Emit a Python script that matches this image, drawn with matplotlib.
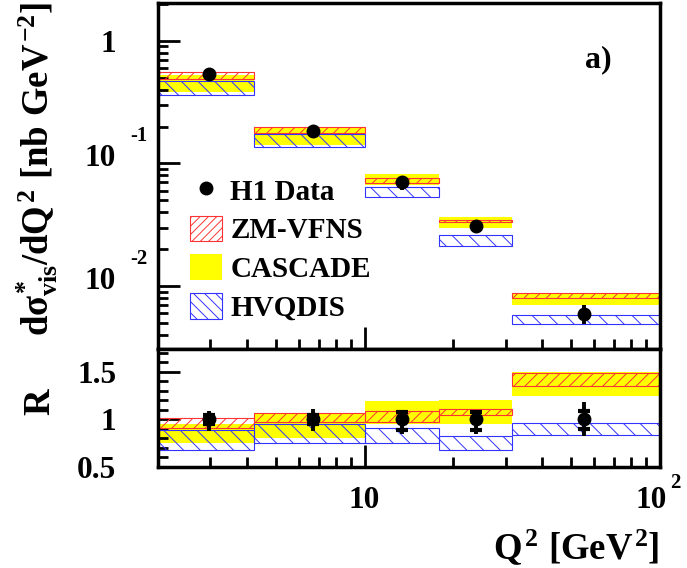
import numpy as np
import matplotlib
matplotlib.use("Agg")
import matplotlib.pyplot as plt
from matplotlib.patches import Patch
from matplotlib.lines import Line2D
from matplotlib.ticker import NullFormatter, MultipleLocator

plt.rcParams['font.family'] = ['Liberation Serif', 'DejaVu Serif']
plt.rcParams['font.weight'] = 'bold'
plt.rcParams['mathtext.fontset'] = 'custom'
plt.rcParams['mathtext.rm'] = 'Liberation Serif:bold'
plt.rcParams['mathtext.it'] = 'Liberation Serif:bold'
plt.rcParams['mathtext.bf'] = 'Liberation Serif:bold'
plt.rcParams['hatch.linewidth'] = 0.7

# Q2 bins [GeV^2]
q2_lo = [2.0, 4.22, 10.0, 17.8, 31.6]
q2_hi = [4.22, 10.0, 17.8, 31.6, 100.0]
q2_pts = [2.98, 6.68, 13.4, 23.8, 55.2]

# H1 data, d sigma / dQ2 [nb GeV^-2]
xs_data = [0.535, 0.184, 0.0709, 0.0309, 0.00589]
xs_err_lo = [0.06, 0.022, 0.010, 0.004, 0.0010]
xs_err_hi = [0.06, 0.021, 0.008, 0.0035, 0.0011]

# theory bands (low, high)
zm_lo = [0.488, 0.178, 0.0689, 0.0333, 0.00796]
zm_hi = [0.553, 0.199, 0.0764, 0.0346, 0.00874]
cas_lo = [0.384, 0.141, 0.0667, 0.0297, 0.00707]
cas_hi = [0.525, 0.199, 0.0820, 0.0368, 0.00874]
hvq_lo = [0.361, 0.137, 0.0530, 0.0212, 0.00488]
hvq_hi = [0.472, 0.174, 0.0639, 0.0261, 0.00581]

# ratio panel
r_data = [1.0, 1.0, 1.0, 1.0, 1.0]
r_tot_lo = [0.12, 0.12, 0.15, 0.15, 0.18]
r_tot_hi = [0.09, 0.11, 0.10, 0.10, 0.18]
r_stat_lo = [0.05, 0.05, 0.11, 0.11, 0.10]
r_stat_hi = [0.05, 0.05, 0.08, 0.08, 0.09]
r_zm_lo = [0.912, 0.971, 0.975, 1.046, 1.348]
r_zm_hi = [1.018, 1.071, 1.088, 1.106, 1.486]
r_cas_lo = [0.75, 0.80, 0.954, 0.954, 1.241]
r_cas_hi = [0.95, 1.071, 1.195, 1.200, 1.503]
r_hvq_lo = [0.673, 0.752, 0.752, 0.681, 0.837]
r_hvq_hi = [0.886, 0.954, 0.904, 0.822, 0.965]

RED = '#ff3333'
BLUE = '#3333ff'
YEL = '#ffff00'
FS = 21      # legend
TFS = 22.5   # tick labels
HFS = 26.5   # axis titles

fig = plt.figure(figsize=(6.87, 5.68), dpi=100)
ax1 = fig.add_axes([0.230, 0.3856, 0.7307, 0.609])
ax2 = fig.add_axes([0.230, 0.178, 0.7307, 0.2076])

w = np.subtract(q2_hi, q2_lo)


def bands(ax, zlo, zhi, clo, chi, hlo, hhi):
    ax.bar(q2_lo, np.subtract(chi, clo), width=w, bottom=clo, align='edge',
           color=YEL, linewidth=0, zorder=1)
    ax.bar(q2_lo, np.subtract(zhi, zlo), width=w, bottom=zlo, align='edge',
           facecolor='none', edgecolor=RED, hatch='///', linewidth=0.8, zorder=2)
    ax.bar(q2_lo, np.subtract(hhi, hlo), width=w, bottom=hlo, align='edge',
           facecolor='none', edgecolor=BLUE, hatch='\\\\', linewidth=0.8, zorder=2)


# upper panel
bands(ax1, zm_lo, zm_hi, cas_lo, cas_hi, hvq_lo, hvq_hi)
ax1.errorbar(q2_pts, xs_data, yerr=[xs_err_lo, xs_err_hi], fmt='o', color='k',
             ms=9, elinewidth=2.8, capsize=0, zorder=5)
ax1.set_xscale('log')
ax1.set_yscale('log')
ax1.set_xlim(2, 100)
ax1.set_ylim(0.00307, 2.03)

# lower panel
bands(ax2, r_zm_lo, r_zm_hi, r_cas_lo, r_cas_hi, r_hvq_lo, r_hvq_hi)
ax2.errorbar(q2_pts, r_data, yerr=[r_tot_lo, r_tot_hi], fmt='o', color='k',
             ms=9, elinewidth=2.8, capsize=0, zorder=5)
ax2.plot(q2_pts, np.subtract(r_data, r_stat_lo), ls='none', marker='_', color='k',
         ms=9, mew=3, zorder=5)
ax2.plot(q2_pts, np.add(r_data, r_stat_hi), ls='none', marker='_', color='k',
         ms=9, mew=3, zorder=5)
ax2.set_xscale('log')
ax2.set_xlim(2, 100)
ax2.set_ylim(0.5, 1.74)

for ax in (ax1, ax2):
    for s in ax.spines.values():
        s.set_linewidth(2.5)
    ax.tick_params(which='both', direction='in', top=False, right=False, width=2)
    ax.tick_params(which='major', length=16, labelsize=TFS, pad=30)
    ax.tick_params(which='minor', length=7)
    ax.set_xticks([10, 100], ['', ''])
    ax.xaxis.set_minor_formatter(NullFormatter())

ax1.set_yticks([0.01, 0.1, 1], ['', '', '1'])
ax1.yaxis.set_minor_formatter(NullFormatter())
ax2.set_yticks([0.5, 1, 1.5], ['0.5', '1', '1.5'])
ax2.yaxis.set_minor_locator(MultipleLocator(0.1))

# ROOT style power labels
for val, ex in [(0.1, '-1'), (0.01, '-2')]:
    ax1.annotate('10', xy=(0, val), xycoords=('axes fraction', 'data'),
                 xytext=(-30, 3.5), textcoords='offset points',
                 ha='right', va='center', fontsize=TFS, fontweight='bold')
    ax1.annotate(ex, xy=(0, val), xycoords=('axes fraction', 'data'),
                 xytext=(-20, 19.5), textcoords='offset points',
                 ha='left', va='center', fontsize=15, fontweight='bold')

ax2.annotate('10', xy=(10, 0), xycoords=('data', 'axes fraction'),
             xytext=(0, -24), textcoords='offset points',
             ha='center', va='center', fontsize=TFS, fontweight='bold')
ax2.annotate('10', xy=(100, 0), xycoords=('data', 'axes fraction'),
             xytext=(-6, -24), textcoords='offset points',
             ha='center', va='center', fontsize=TFS, fontweight='bold')
ax2.annotate('2', xy=(100, 0), xycoords=('data', 'axes fraction'),
             xytext=(7, -11.5), textcoords='offset points',
             ha='left', va='center', fontsize=15, fontweight='bold')

# titles
fig.text(0.054, 1 - 2 / 568, r'$d\sigma^{*}_{vis}/dQ^{2}\ [nb\ GeV^{-2}]$',
         rotation=90, ha='center', va='top', fontsize=HFS)
fig.text(0.058, 1 - 402 / 568, 'R', rotation=90, ha='center', va='center',
         fontsize=HFS, fontweight='bold')
fig.text(659 / 687, 1 - 547 / 568, r'$Q^{2}\ [GeV^{2}]$', ha='right',
         va='center', fontsize=HFS)
ax1.text(0.851, 0.835, 'a)', transform=ax1.transAxes, ha='left', va='center',
         fontsize=23, fontweight='bold')

# legend
handles = [
    Line2D([], [], ls='none', marker='o', color='k', ms=9),
    Patch(facecolor='none', edgecolor=RED, hatch='////', linewidth=0.8),
    Patch(facecolor=YEL, edgecolor='none'),
    Patch(facecolor='none', edgecolor=BLUE, hatch='\\\\\\', linewidth=0.8),
]
labels = ['H1 Data', 'ZM-VFNS', 'CASCADE', 'HVQDIS']
leg = ax1.legend(handles, labels, loc='upper left',
                 bbox_to_anchor=((190 - 158) / 502, 1 - (177 - 3) / 346),
                 frameon=False, fontsize=FS, handlelength=1.1, handleheight=0.97,
                 handletextpad=0.28, labelspacing=0.34, borderpad=0, borderaxespad=0)

fig.savefig('out.png', dpi=100)
